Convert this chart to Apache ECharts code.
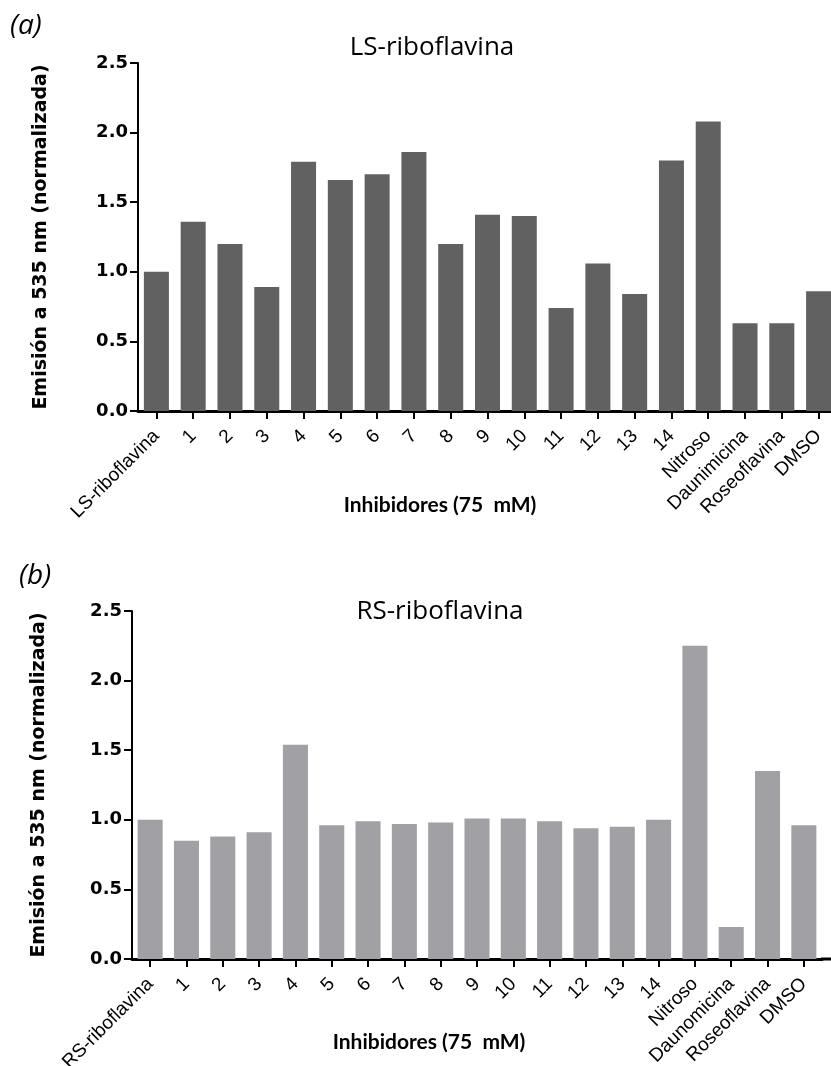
<!DOCTYPE html>
<html><head><meta charset="utf-8">
<script src="https://cdn.jsdelivr.net/npm/echarts@6/dist/echarts.min.js"></script>
<style>html,body{margin:0;padding:0;background:#fff}#c{width:831px;height:1066px}</style>
</head><body><div id="c"></div>
<script>
const catsA = ['LS-riboflavina','1','2','3','4','5','6','7','8','9','10','11','12','13','14','Nitroso','Daunimicina','Roseoflavina','DMSO'];
const catsB = ['RS-riboflavina','1','2','3','4','5','6','7','8','9','10','11','12','13','14','Nitroso','Daunomicina','Roseoflavina','DMSO'];
const valsA = [1.0,1.36,1.2,0.89,1.79,1.66,1.70,1.86,1.2,1.41,1.40,0.74,1.06,0.84,1.80,2.08,0.63,0.63,0.86];
const valsB = [1.0,0.85,0.88,0.91,1.54,0.96,0.99,0.97,0.98,1.01,1.01,0.99,0.94,0.95,1.0,2.25,0.23,1.35,0.96];
const yMin = 0, yMax = 2.5, yStep = 0.5;
const titleA = 'LS-riboflavina', titleB = 'RS-riboflavina';
const yName = 'Emisión a 535 nm (normalizada)';
const xName = 'Inhibidores (75  mM)';

const chart = echarts.init(document.getElementById('c'), null, {renderer:'canvas'});
function yAxis(gi, gap){
  return {gridIndex:gi, type:'value', min:yMin, max:yMax, interval:yStep,
    name:yName, nameLocation:'middle', nameGap:gap, nameRotate:90,
    nameTextStyle:{fontFamily:'DejaVu Sans', fontWeight:'bold', fontSize:19, color:'#000'},
    axisLine:{show:true, lineStyle:{color:'#000', width:2}},
    axisTick:{show:true, length:8, lineStyle:{color:'#000', width:2}},
    axisLabel:{margin:10, color:'#000', fontFamily:'DejaVu Sans', fontWeight:'bold', fontSize:18,
      formatter:v=>v.toFixed(1)},
    splitLine:{show:false}};
}
function xAxis(gi, cats){
  return {gridIndex:gi, type:'category', data:cats,
    axisLine:{show:true, lineStyle:{color:'#000', width:3}},
    axisTick:{show:true, alignWithLabel:true, length:8, lineStyle:{color:'#000', width:2}},
    axisLabel:{rotate:45, margin:22, interval:0, color:'#000', fontFamily:'Liberation Sans', fontSize:19}};
}
chart.setOption({
  backgroundColor:'#fff',
  animation:false,
  grid:[{left:138, top:63, width:699, height:348, containLabel:false, outerBoundsMode:'none'},
        {left:132, top:611, width:690, height:348, containLabel:false, outerBoundsMode:'none'}],
  xAxis:[xAxis(0,catsA), xAxis(1,catsB)],
  yAxis:[yAxis(0,87), yAxis(1,83)],
  series:[
    {type:'bar', xAxisIndex:0, yAxisIndex:0, data:valsA, barCategoryGap:'32%', itemStyle:{color:'#616161'}},
    {type:'bar', xAxisIndex:1, yAxisIndex:1, data:valsB, barCategoryGap:'31%', itemStyle:{color:'#a1a0a5'}}
  ],
  graphic:[
    {type:'text', x:10, y:12, style:{text:'(a)', fontFamily:'Open Sans', fontStyle:'italic', fontSize:28, fill:'#000'}},
    {type:'text', x:19, y:562, style:{text:'(b)', fontFamily:'Open Sans', fontStyle:'italic', fontSize:28, fill:'#000'}},
    {type:'text', x:432, y:48, style:{text:titleA, fontFamily:'Open Sans', fontSize:26, fill:'#000', align:'center', verticalAlign:'middle'}},
    {type:'text', x:440, y:612, style:{text:titleB, fontFamily:'Open Sans', fontSize:26, fill:'#000', align:'center', verticalAlign:'middle'}},
    {type:'text', x:440, y:505, style:{text:xName, fontFamily:'Lato', fontWeight:'bold', fontSize:21, fill:'#000', align:'center', verticalAlign:'middle'}},
    {type:'text', x:429, y:1042, style:{text:xName, fontFamily:'Lato', fontWeight:'bold', fontSize:21, fill:'#000', align:'center', verticalAlign:'middle'}},
    {type:'line', shape:{x1:821, y1:959, x2:831, y2:959}, style:{stroke:'#000', lineWidth:3}}
  ]
});
</script></body></html>
